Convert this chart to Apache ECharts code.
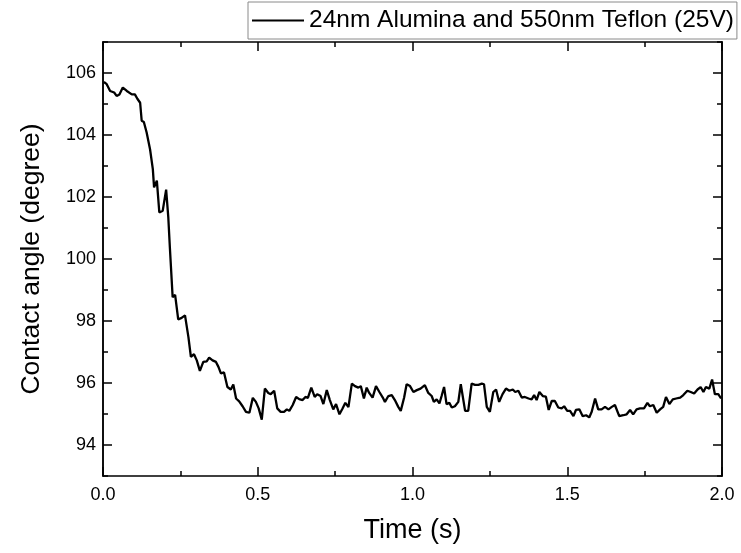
<!DOCTYPE html>
<html>
<head>
<meta charset="utf-8">
<script src="https://cdn.jsdelivr.net/npm/echarts@6/dist/echarts.min.js"></script>
<style>
  html, body { margin: 0; padding: 0; background: #fff; }
  #chart { width: 741px; height: 553px; }
</style>
</head>
<body>
<div id="chart"></div>
<script>
// Contact angle of a droplet over time (24nm alumina + 550nm Teflon, 25 V)
const seriesName = '24nm Alumina and 550nm Teflon (25V)';

const timeS = [
  0.003, 0.012, 0.023, 0.036, 0.044, 0.053, 0.064, 0.077, 0.093, 0.103,
  0.111, 0.120, 0.125, 0.132, 0.141, 0.152, 0.161, 0.165, 0.174, 0.182,
  0.193, 0.204, 0.211, 0.216, 0.225, 0.233, 0.243, 0.254, 0.265, 0.276,
  0.284, 0.294, 0.303, 0.313, 0.324, 0.335, 0.343, 0.354, 0.365, 0.373,
  0.381, 0.391, 0.402, 0.413, 0.421, 0.430, 0.440, 0.451, 0.462, 0.473,
  0.484, 0.494, 0.503, 0.513, 0.523, 0.534, 0.542, 0.553, 0.563, 0.574,
  0.585, 0.594, 0.602, 0.613, 0.624, 0.634, 0.645, 0.654, 0.662, 0.673,
  0.684, 0.692, 0.703, 0.712, 0.723, 0.733, 0.744, 0.753, 0.764, 0.774,
  0.783, 0.793, 0.804, 0.814, 0.825, 0.833, 0.843, 0.852, 0.860, 0.871,
  0.882, 0.893, 0.904, 0.911, 0.922, 0.933, 0.943, 0.954, 0.962, 0.973,
  0.981, 0.992, 1.003, 1.014, 1.026, 1.040, 1.051, 1.062, 1.069, 1.078,
  1.087, 1.094, 1.102, 1.110, 1.119, 1.127, 1.137, 1.148, 1.156, 1.162,
  1.170, 1.180, 1.191, 1.202, 1.213, 1.224, 1.231, 1.240, 1.250, 1.261,
  1.270, 1.280, 1.291, 1.302, 1.313, 1.324, 1.332, 1.342, 1.353, 1.363,
  1.375, 1.385, 1.393, 1.401, 1.410, 1.421, 1.431, 1.440, 1.450, 1.460,
  1.471, 1.482, 1.490, 1.500, 1.509, 1.520, 1.528, 1.539, 1.550, 1.561,
  1.571, 1.579, 1.590, 1.600, 1.611, 1.622, 1.633, 1.644, 1.654, 1.668,
  1.681, 1.692, 1.703, 1.713, 1.724, 1.735, 1.748, 1.759, 1.767, 1.778,
  1.789, 1.800, 1.810, 1.819, 1.830, 1.841, 1.852, 1.865, 1.875, 1.888,
  1.899, 1.910, 1.921, 1.931, 1.940, 1.948, 1.959, 1.968, 1.977, 1.988,
  1.997
];

const angleDeg = [
  105.71, 105.64, 105.42, 105.37, 105.26, 105.31, 105.53, 105.42, 105.31, 105.31,
  105.17, 105.04, 104.46, 104.42, 104.08, 103.54, 102.90, 102.31, 102.53, 101.50,
  101.56, 102.24, 101.34, 100.38, 98.77, 98.84, 98.05, 98.10, 98.18, 97.48,
  96.84, 96.93, 96.73, 96.39, 96.68, 96.70, 96.82, 96.73, 96.68, 96.52,
  96.31, 96.34, 95.87, 95.79, 95.95, 95.50, 95.41, 95.25, 95.07, 95.04,
  95.52, 95.39, 95.18, 94.82, 95.82, 95.68, 95.64, 95.75, 95.18, 95.07,
  95.07, 95.15, 95.10, 95.29, 95.55, 95.48, 95.45, 95.55, 95.52, 95.85,
  95.55, 95.64, 95.58, 95.32, 95.77, 95.45, 95.15, 95.32, 94.99, 95.18,
  95.36, 95.22, 95.98, 95.90, 95.85, 95.90, 95.50, 95.85, 95.68, 95.53,
  95.90, 95.71, 95.53, 95.39, 95.58, 95.61, 95.45, 95.23, 95.10, 95.53,
  95.96, 95.90, 95.71, 95.77, 95.82, 95.93, 95.68, 95.58, 95.39, 95.47,
  95.34, 95.58, 95.87, 95.32, 95.36, 95.21, 95.25, 95.39, 95.96, 95.98,
  95.10, 95.10, 95.98, 95.94, 95.94, 95.98, 95.96, 95.23, 95.07, 95.71,
  95.79, 95.39, 95.64, 95.82, 95.75, 95.79, 95.71, 95.75, 95.53, 95.55,
  95.50, 95.47, 95.61, 95.45, 95.71, 95.58, 95.56, 95.13, 95.42, 95.42,
  95.21, 95.18, 95.25, 95.10, 95.10, 94.93, 95.13, 95.15, 94.93, 94.96,
  94.89, 95.07, 95.50, 95.15, 95.15, 95.23, 95.15, 95.23, 95.29, 94.93,
  94.96, 94.99, 95.13, 94.99, 95.15, 95.18, 95.18, 95.36, 95.25, 95.29,
  95.04, 95.15, 95.23, 95.55, 95.32, 95.47, 95.50, 95.53, 95.61, 95.75,
  95.71, 95.66, 95.79, 95.87, 95.71, 95.87, 95.82, 96.11, 95.64, 95.64,
  95.50
];

// Tick positions
const yMajorTicks = [94, 96, 98, 100, 102, 104, 106];
const yMinorTicks = [93, 95, 97, 99, 101, 103, 105, 107];

const FONT = '"Liberation Sans", Arial, sans-serif';
const black = '#000';

const points = timeS.map((t, i) => [t, angleDeg[i]]);

const lineAxis = { show: true, lineStyle: { color: black, width: 1.5 } };

function xAxisDef(pos, withLabels) {
  return {
    type: 'value', position: pos, min: 0, max: 2, interval: 0.5,
    axisLine: lineAxis,
    axisTick: { show: true, inside: true, length: 9, lineStyle: { color: black, width: 1.5 } },
    minorTick: { show: true, splitNumber: 2, length: 5, lineStyle: { color: black, width: 1.5 } },
    splitLine: { show: false },
    axisLabel: withLabels ? {
      show: true, color: black, fontFamily: FONT, fontSize: 18, margin: 10,
      formatter: v => v.toFixed(1)
    } : { show: false },
    name: withLabels ? 'Time (s)' : '',
    nameLocation: 'middle', nameGap: 41,
    nameTextStyle: { color: black, fontFamily: FONT, fontSize: 27 }
  };
}

function yAxisDef(pos, ticks, len, withLabels) {
  return {
    type: 'value', position: pos, min: 93, max: 107,
    axisLine: lineAxis,
    axisTick: { show: true, inside: true, length: len, customValues: ticks,
      lineStyle: { color: black, width: 1.5 } },
    splitLine: { show: false },
    axisLabel: withLabels ? {
      show: true, color: black, fontFamily: FONT, fontSize: 18, margin: 7,
      customValues: ticks
    } : { show: false },
    name: withLabels ? 'Contact angle (degree)' : '',
    nameLocation: 'middle', nameGap: 58, nameRotate: 90,
    nameTextStyle: { color: black, fontFamily: FONT, fontSize: 26.5 }
  };
}

const chart = echarts.init(document.getElementById('chart'), null, { renderer: 'canvas' });

chart.setOption({
  animation: false,
  backgroundColor: '#fff',
  grid: { left: 103, right: 19, top: 42, bottom: 77, containLabel: false },
  legend: {
    left: 248, top: 2,
    padding: [6, 3, 6, 4],
    borderColor: '#8a8a8a', borderWidth: 1, backgroundColor: '#fff',
    itemWidth: 52, itemHeight: 2, icon: 'rect',
    textStyle: { color: black, fontFamily: FONT, fontSize: 24.5 },
    data: [seriesName]
  },
  xAxis: [xAxisDef('bottom', true), xAxisDef('top', false)],
  yAxis: [
    yAxisDef('left', yMajorTicks, 9, true),
    yAxisDef('left', yMinorTicks, 5, false),
    yAxisDef('right', yMajorTicks, 9, false),
    yAxisDef('right', yMinorTicks, 5, false)
  ],
  series: [{
    name: seriesName,
    type: 'line',
    xAxisIndex: 0, yAxisIndex: 0,
    data: points,
    showSymbol: false,
    symbol: 'none',
    lineStyle: { color: black, width: 2.3 },
    itemStyle: { color: black }
  }]
});
</script>
</body>
</html>
